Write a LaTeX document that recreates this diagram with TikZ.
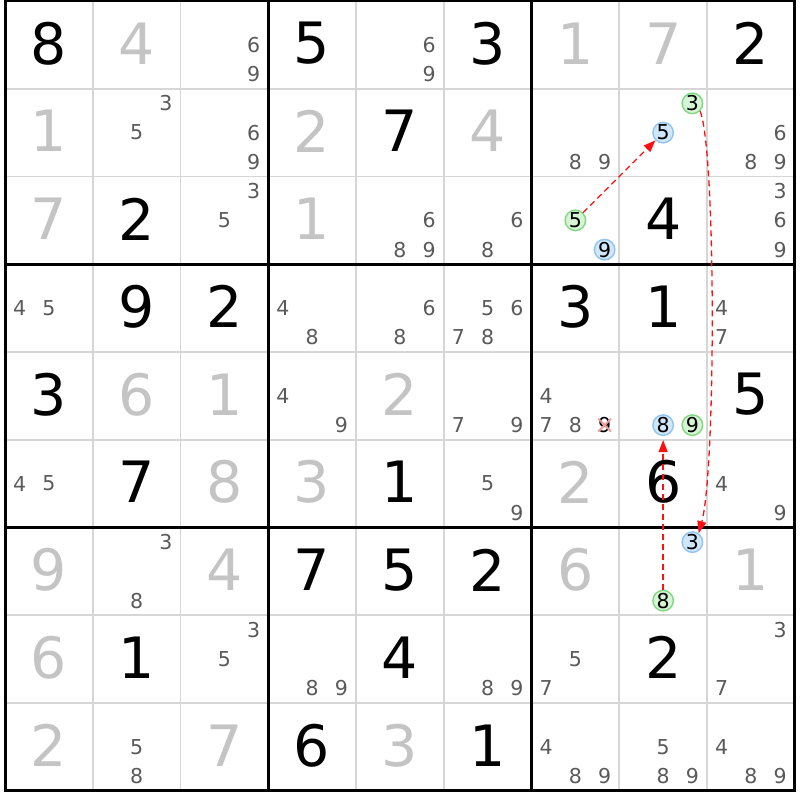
\documentclass[tikz,border=0pt]{standalone}
\usepackage{fontspec}
\setmainfont{DejaVu Sans}
\usetikzlibrary{arrows.meta}
\definecolor{solvedgray}{HTML}{C4C4C4}
\definecolor{candgray}{HTML}{5A5A5A}
\definecolor{gridgray}{HTML}{D6D6D6}
\definecolor{gfill}{HTML}{D5F5D5}
\definecolor{gline}{HTML}{80D880}
\definecolor{bfill}{HTML}{D0E6FA}
\definecolor{bline}{HTML}{90C4F2}
\definecolor{crossred}{HTML}{F29A9A}
\definecolor{linkred}{HTML}{FF1010}
\newcommand\Given[3]{\node[givendigit] (v#1#2) at ({5+(#2-0.5)*87.75},{1+(#1-0.5)*87.75-1.5}) {#3};}
\newcommand\Solved[3]{\node[solveddigit] (v#1#2) at ({5+(#2-0.5)*87.75},{1+(#1-0.5)*87.75-1.5}) {#3};}
\newcommand\Cands[3]{\foreach \d in {#3}{\node[canddigit] (k#1#2\d) at ({5+(#2-1)*87.75+(mod(\d-1,3)+0.5)*29.25},{1+(#1-1)*87.75+(floor((\d-1)/3)+0.5)*29.25}) {\d};}}
\newcommand\Circ[5]{\node[#2] (#1) at ({5+(#4-1)*87.75+(mod(#5-1,3)+0.5)*29.25},{1+(#3-1)*87.75+(floor((#5-1)/3)+0.5)*29.25}) {#5};}
\begin{document}
\begin{tikzpicture}[x=1pt,y=-1pt,
  givendigit/.style={inner sep=0pt, text=black, font=\fontsize{57}{60}\selectfont},
  solveddigit/.style={inner sep=0pt, text=solvedgray, font=\fontsize{57}{60}\selectfont},
  canddigit/.style={inner sep=0pt, text=candgray, font=\fontsize{20.5}{22}\selectfont},
  greencirc/.style={circle, draw=gline, fill=gfill, line width=1.4pt, minimum size=20.5pt, inner sep=0pt, text=black, font=\fontsize{20.5}{22}\selectfont},
  bluecirc/.style={circle, draw=bline, fill=bfill, line width=1.4pt, minimum size=20.5pt, inner sep=0pt, text=black, font=\fontsize{20.5}{22}\selectfont},
  thinline/.style={gridgray, line width=1.6pt},
  thickline/.style={black, line width=3pt},
  crossx/.style={crossred, line width=2pt, line cap=round},
  linkarrow/.style={linkred, line width=1.3pt, dash pattern=on 6pt off 4pt, -{Triangle[length=12pt,width=9pt]}}]
\fill[white] (0,0) rectangle (800,800);
\useasboundingbox (0,0) rectangle (800,800);
% thin grid
\foreach \i in {1,2,4,5,7,8}{
  \draw[thinline] ({5+\i*87.75},1) -- ({5+\i*87.75},790.75);
  \draw[thinline] (5,{1+\i*87.75}) -- (794.75,{1+\i*87.75});
}
% row 1
\Given{1}{1}{8} \Solved{1}{2}{4} \Cands{1}{3}{6,9} \Given{1}{4}{5} \Cands{1}{5}{6,9} \Given{1}{6}{3} \Solved{1}{7}{1} \Solved{1}{8}{7} \Given{1}{9}{2}
% row 2
\Solved{2}{1}{1} \Cands{2}{2}{3,5} \Cands{2}{3}{6,9} \Solved{2}{4}{2} \Given{2}{5}{7} \Solved{2}{6}{4} \Cands{2}{7}{8,9} \Cands{2}{9}{6,8,9}
% row 3
\Solved{3}{1}{7} \Given{3}{2}{2} \Cands{3}{3}{3,5} \Solved{3}{4}{1} \Cands{3}{5}{6,8,9} \Cands{3}{6}{6,8} \Given{3}{8}{4} \Cands{3}{9}{3,6,9}
% row 4
\Cands{4}{1}{4,5} \Given{4}{2}{9} \Given{4}{3}{2} \Cands{4}{4}{4,8} \Cands{4}{5}{6,8} \Cands{4}{6}{5,6,7,8} \Given{4}{7}{3} \Given{4}{8}{1} \Cands{4}{9}{4,7}
% row 5
\Given{5}{1}{3} \Solved{5}{2}{6} \Solved{5}{3}{1} \Cands{5}{4}{4,9} \Solved{5}{5}{2} \Cands{5}{6}{7,9} \Cands{5}{7}{4,7,8} \Given{5}{9}{5}
\node[canddigit, text=black] (k579) at ({5+6*87.75+2.5*29.25},{1+4*87.75+2.5*29.25}) {9};
\draw[crossx] ([shift={(-6,-6)}]k579.center) -- ([shift={(6,6)}]k579.center);
\draw[crossx] ([shift={(-6,6)}]k579.center) -- ([shift={(6,-6)}]k579.center);
% row 6
\Cands{6}{1}{4,5} \Given{6}{2}{7} \Solved{6}{3}{8} \Solved{6}{4}{3} \Given{6}{5}{1} \Cands{6}{6}{5,9} \Solved{6}{7}{2} \Given{6}{8}{6} \Cands{6}{9}{4,9}
% row 7
\Solved{7}{1}{9} \Cands{7}{2}{3,8} \Solved{7}{3}{4} \Given{7}{4}{7} \Given{7}{5}{5} \Given{7}{6}{2} \Solved{7}{7}{6} \Solved{7}{9}{1}
% row 8
\Solved{8}{1}{6} \Given{8}{2}{1} \Cands{8}{3}{3,5} \Cands{8}{4}{8,9} \Given{8}{5}{4} \Cands{8}{6}{8,9} \Cands{8}{7}{5,7} \Given{8}{8}{2} \Cands{8}{9}{3,7}
% row 9
\Solved{9}{1}{2} \Cands{9}{2}{5,8} \Solved{9}{3}{7} \Given{9}{4}{6} \Solved{9}{5}{3} \Given{9}{6}{1} \Cands{9}{7}{4,8,9} \Cands{9}{8}{5,8,9} \Cands{9}{9}{4,8,9}
% thick grid
\draw[thickline] (5,1) rectangle (794.75,790.75);
\foreach \i in {3,6}{
  \draw[thickline] ({5+\i*87.75},1) -- ({5+\i*87.75},790.75);
  \draw[thickline] (5,{1+\i*87.75}) -- (794.75,{1+\i*87.75});
}
% circled candidates
\Circ{g3}{greencirc}{2}{8}{3}
\Circ{b5}{bluecirc}{2}{8}{5}
\Circ{g5}{greencirc}{3}{7}{5}
\Circ{b9}{bluecirc}{3}{7}{9}
\Circ{b8}{bluecirc}{5}{8}{8}
\Circ{g9}{greencirc}{5}{8}{9}
\Circ{b3}{bluecirc}{7}{8}{3}
\Circ{g8}{greencirc}{7}{8}{8}
% links
\draw[linkarrow] (g5) -- (b5);
\draw[linkarrow] (g3.-45) .. controls (716,150) and (716,470) .. (b3.55);
\draw[linkarrow, shorten >=4pt] (g8) -- (b8);
\end{tikzpicture}
\end{document}
